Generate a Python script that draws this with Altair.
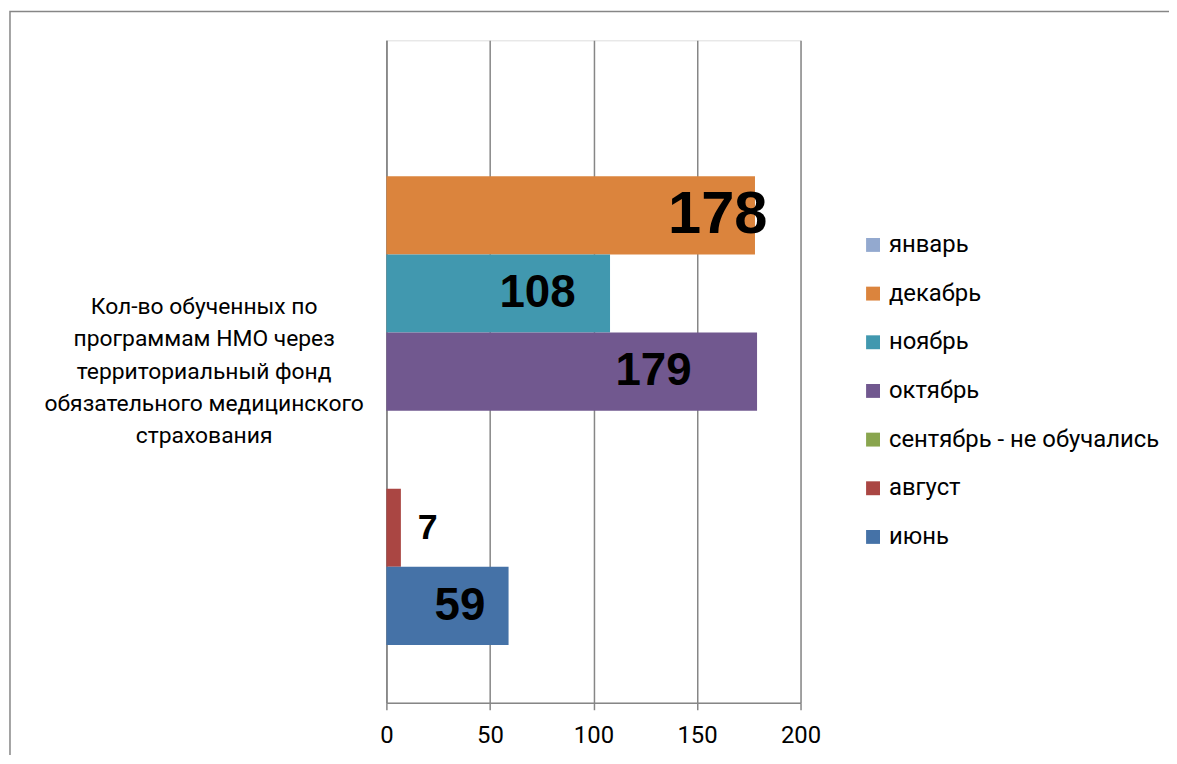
import altair as alt
import pandas as pd

category = "Кол-во обученных по\nпрограммам НМО через\nтерриториальный фонд\nобязательного медицинского\nстрахования"
months = ["январь", "декабрь", "ноябрь", "октябрь", "сентябрь - не обучались", "август", "июнь"]
values = [0, 178, 108, 179, 0, 7, 59]
colors = ["#93A9CF", "#DB843D", "#4198AF", "#71588F", "#89A54E", "#AA4643", "#4572A7"]
x_ticks = [0, 50, 100, 150, 200]

# label placement style (inset from bar end, in axis units)
label_inset = {"декабрь": 18, "ноябрь": 35, "октябрь": 50, "август": -13, "июнь": 23.5}
label_size = {"декабрь": 60, "август": 36}

df = pd.DataFrame({"category": category, "month": months, "value": values})
df["label_x"] = [v - label_inset.get(m, 0) for m, v in zip(months, values)]
df["lsize"] = [label_size.get(m, 46) for m in months]

FONT = "Roboto"
GRID = "#868686"

y_enc = alt.Y(
    "category:N",
    title=None,
    scale=alt.Scale(paddingInner=0, paddingOuter=0),
    axis=alt.Axis(
        ticks=False,
        domainColor=GRID,
        domainWidth=1.5,
        labelExpr="split(datum.label, '\\n')",
        labelAlign="center",
        labelPadding=184,
        labelOffset=-65,
        labelFont=FONT,
        labelFontSize=23,
        labelLineHeight=32.5,
        labelColor="#000000",
        labelLimit=0,
        labelAngle=0,
    ),
)
yoff_enc = alt.YOffset("month:N", sort=months, scale=alt.Scale(paddingInner=0, paddingOuter=0.74))

bars = alt.Chart(df).mark_bar().encode(
    y=y_enc,
    yOffset=yoff_enc,
    x=alt.X(
        "value:Q",
        title=None,
        scale=alt.Scale(domain=[0, 200], nice=False),
        axis=alt.Axis(
            values=x_ticks,
            grid=True,
            gridColor=GRID,
            gridWidth=1.5,
            domainColor=GRID,
            domainWidth=1.5,
            tickColor=GRID,
            tickWidth=1.5,
            tickSize=7,
            labelFont=FONT,
            labelFontSize=24,
            labelColor="#000000",
            labelPadding=14,
            labelFlush=False,
        ),
    ),
    color=alt.Color(
        "month:N",
        sort=months,
        scale=alt.Scale(domain=months, range=colors),
        legend=alt.Legend(
            title=None,
            orient="none",
            legendX=478,
            legendY=194,
            symbolType="square",
            symbolSize=196,
            symbolStrokeWidth=0,
            labelFont=FONT,
            labelFontSize=24,
            labelColor="#000000",
            rowPadding=25,
            labelOffset=4,
            padding=0,
            labelLimit=400,
        ),
    ),
)

labels = alt.Chart(df).transform_filter("datum.value > 0").mark_text(
    font="Liberation Sans", fontWeight="bold", color="#000000", align="center", baseline="middle"
).encode(
    y=y_enc,
    yOffset=yoff_enc,
    x=alt.X("label_x:Q"),
    text=alt.Text("value:Q"),
    size=alt.Size("lsize:Q", scale=None, legend=None),
)

frame = alt.Chart(pd.DataFrame({"k": [0]})).mark_rect(
    fill=None, stroke=GRID, strokeWidth=1.5
).encode(
    x=alt.value(-379), x2=alt.value(1000), y=alt.value(-29), y2=alt.value(900)
)

chart = alt.layer(frame, bars, labels).properties(
    width=417,
    height=667,
    padding={"left": 381, "top": 30, "right": 371, "bottom": 50},
    autosize=alt.AutoSizeParams(type="none"),
).configure_view(stroke=None).configure(background="#ffffff")

chart.save("out.html", embed_options={"renderer": "svg", "actions": False})
